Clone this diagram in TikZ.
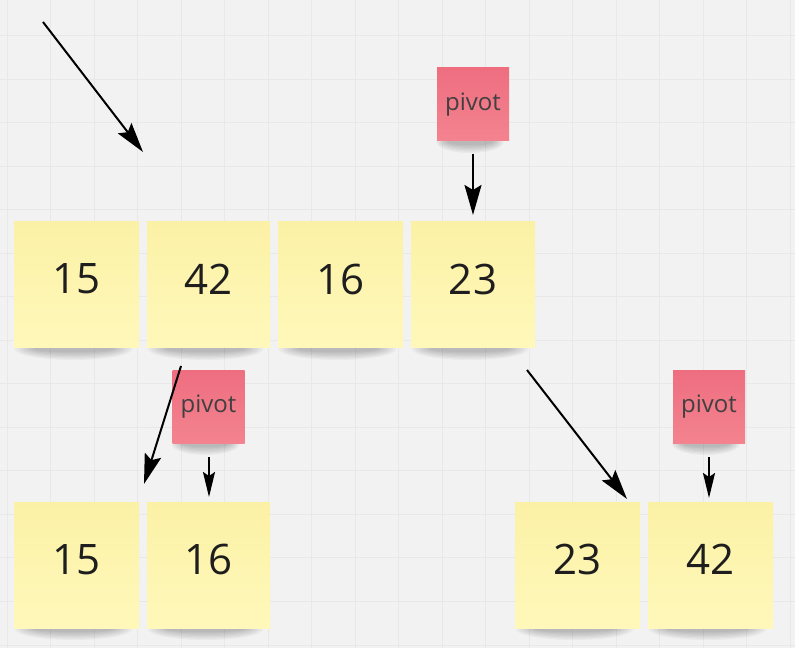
\documentclass[tikz,border=0pt]{standalone}
\usepackage{fontspec}
\setmainfont{Open Sans}
\usetikzlibrary{arrows.meta}
\definecolor{bg}{HTML}{F2F2F2}
\definecolor{gridc}{HTML}{E8E8E8}
\definecolor{stickyb}{HTML}{FFF8BA}
\definecolor{stickyt}{HTML}{FBF1A6}
\definecolor{pinkt}{HTML}{EE6E80}
\definecolor{pinkb}{HTML}{F3838F}
\definecolor{txt}{HTML}{1E1E1E}
\tikzset{
  note/.style={minimum width=125pt, minimum height=126pt, inner sep=0pt,
    top color=stickyt, bottom color=stickyb, text=txt, text depth=12pt,
    font=\fontsize{42}{42}\selectfont},
  pivotnote/.style={minimum width=72pt, minimum height=73pt, inner sep=0pt,
    top color=pinkt, bottom color=pinkb, text=txt!85,
    font=\fontsize{24}{24}\selectfont},
  arrowbig/.style={line width=2pt, -{Stealth[length=30pt, width=17pt, inset=5pt]}},
  arrowsmall/.style={line width=2pt, -{Stealth[length=25pt, width=12pt, inset=4pt]}},
  shadowc/.style={fill=black, opacity=0.035}
}
\begin{document}
\begin{tikzpicture}[x=1pt, y=1pt]
\useasboundingbox (0,0) rectangle (795,648);
\fill[bg] (0,0) rectangle (795,648);
% grid
\foreach \i in {0,...,18} {
  \draw[gridc, line width=1pt] ({7+43.5*\i},0) -- ({7+43.5*\i},648);
}
\foreach \j in {0,...,14} {
  \draw[gridc, line width=1pt] (0,{648-36-43.5*\j}) -- (795,{648-36-43.5*\j});
}
% soft shadows below the notes
\foreach \cx/\cy/\w in {76.5/300/125, 208.5/300/123, 340.5/300/125, 473/300/124,
                        76.5/20/125, 208.5/20/123, 577.5/20/125, 710.5/20/125,
                        473/507/72, 208.5/205/72, 709/205/72} {
  \foreach \k in {0,...,6} {
    \fill[shadowc] (\cx-3, \cy-1) ellipse ({(0.47-0.025*\k)*\w} and {11-1.3*\k});
  }
}
% top row
\node[note] (t15) at (76.5,363) {15};
\node[note, minimum width=123pt] (t42) at (208.5,363) {42};
\node[note] (t16) at (340.5,363) {16};
\node[note, minimum width=124pt] (t23) at (473,363) {23};
% bottom row
\node[note] (b15) at (76.5,82.5) {15};
\node[note, minimum width=123pt] (b16) at (208.5,82.5) {16};
\node[note] (b23) at (577.5,82.5) {23};
\node[note] (b42) at (710.5,82.5) {42};
% pivots
\node[pivotnote] (p1) at (473,543.5) {pivot};
\node[pivotnote] (p2) at (208.5,241) {pivot};
\node[pivotnote] (p3) at (709,241) {pivot};
% arrow coordinates
\coordinate (a1s) at (43,626);
\coordinate (a1e) at (143,496);
\coordinate (a2s) at (473,494);
\coordinate (a2e) at (473,433);
\coordinate (a3s) at (181,282);
\coordinate (a3e) at (144,164);
\coordinate (a4s) at (209,191);
\coordinate (a4e) at (209,151);
\coordinate (a5s) at (527,278);
\coordinate (a5e) at (627,149);
\coordinate (a6s) at (709,191);
\coordinate (a6e) at (709,150);
\draw[arrowbig] (a1s) -- (a1e);
\draw[arrowbig] (a2s) -- (a2e);
\draw[arrowbig] (a3s) -- (a3e);
\draw[arrowsmall] (a4s) -- (a4e);
\draw[arrowbig] (a5s) -- (a5e);
\draw[arrowsmall] (a6s) -- (a6e);
\end{tikzpicture}
\end{document}
